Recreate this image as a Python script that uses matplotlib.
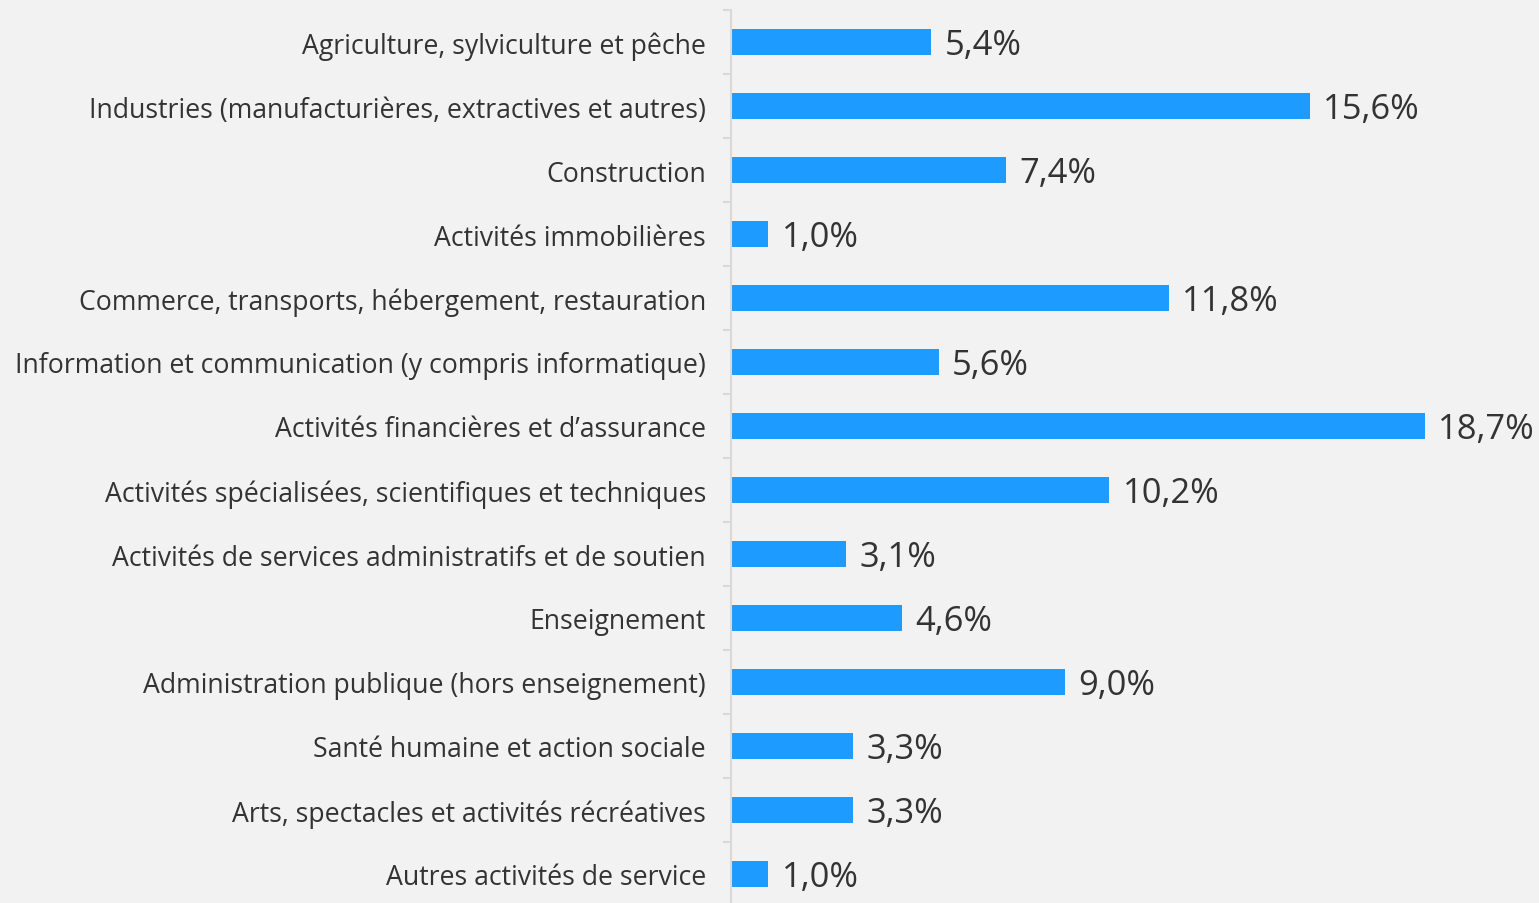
import matplotlib.pyplot as plt
import numpy as np
from matplotlib.ticker import FixedLocator

categories = [
    "Agriculture, sylviculture et pêche",
    "Industries (manufacturières, extractives et autres)",
    "Construction",
    "Activités immobilières",
    "Commerce, transports, hébergement, restauration",
    "Information et communication (y compris informatique)",
    "Activités financières et d\u2019assurance",
    "Activités spécialisées, scientifiques et techniques",
    "Activités de services administratifs et de soutien",
    "Enseignement",
    "Administration publique (hors enseignement)",
    "Santé humaine et action sociale",
    "Arts, spectacles et activités récréatives",
    "Autres activités de service",
]
values = [5.4, 15.6, 7.4, 1.0, 11.8, 5.6, 18.7, 10.2, 3.1, 4.6, 9.0, 3.3, 3.3, 1.0]

bg = "#f2f2f2"
bar_color = "#1e9bff"
text_color = "#333333"
grey = "#d9d9d9"

plt.rcParams["font.family"] = ["Open Sans", "DejaVu Sans"]

fig = plt.figure(figsize=(15.39, 9.04), dpi=100, facecolor=bg)
ax = fig.add_axes([731 / 1539, 0, 1 - 731 / 1539, (904 - 11) / 904])
ax.set_facecolor(bg)

y = np.arange(len(categories))
ax.barh(y, values, height=0.41, color=bar_color)

for yi, v in zip(y, values):
    ax.text(v + 0.36, yi + 0.04, f"{v:.1f}%".replace(".", ","), va="center", ha="left",
            fontsize=24.8, color=text_color)

ax.set_xlim(0, (1539 - 731) / 37.1)
ax.set_ylim((904 - 11) / 64 - 0.5, -0.5)

ax.set_yticks(y)
ax.set_yticklabels(categories, fontsize=19.2, color=text_color)
ax.tick_params(axis="y", which="major", length=0, pad=18)
ax.yaxis.set_minor_locator(FixedLocator(np.arange(-0.5, len(categories), 1)))
ax.tick_params(axis="y", which="minor", length=6, width=1.5, color=grey)
ax.set_xticks([])

for side in ["top", "right", "bottom"]:
    ax.spines[side].set_visible(False)
ax.spines["left"].set_color(grey)
ax.spines["left"].set_linewidth(1.5)

fig.savefig("out.png", dpi=100, facecolor=bg)
